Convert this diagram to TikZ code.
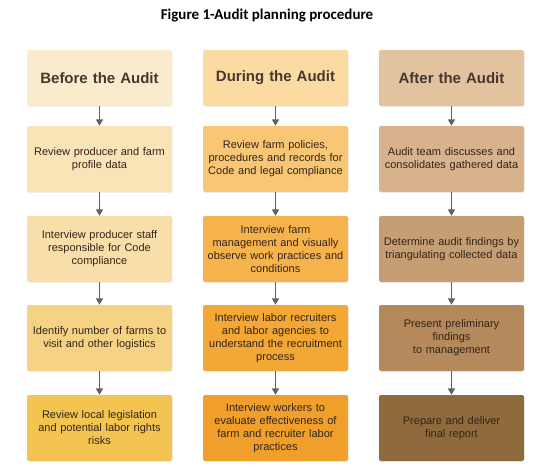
\documentclass[tikz,border=0pt]{standalone}
\usepackage{fontspec}
\setmainfont{Liberation Sans}
\newfontfamily\titlefont{Carlito}
\usetikzlibrary{arrows.meta,shadows}
\definecolor{aA}{HTML}{F9EBCB}
\definecolor{aB}{HTML}{F9E4B7}
\definecolor{aC}{HTML}{F8DEA8}
\definecolor{aD}{HTML}{F6D384}
\definecolor{aE}{HTML}{F3C451}
\definecolor{bA}{HTML}{FCDBA3}
\definecolor{bB}{HTML}{F9C676}
\definecolor{bC}{HTML}{F6B34D}
\definecolor{bD}{HTML}{F3A734}
\definecolor{bE}{HTML}{F09F2A}
\definecolor{cA}{HTML}{E3C29F}
\definecolor{cB}{HTML}{D8B28C}
\definecolor{cC}{HTML}{C69E73}
\definecolor{cD}{HTML}{B48A5C}
\definecolor{cE}{HTML}{8E6A3D}
\definecolor{hdtext}{HTML}{45392F}
\definecolor{bodytext}{HTML}{33241A}
\definecolor{arrowgray}{HTML}{606060}
\tikzset{
  boxbase/.style={rectangle, rounded corners=2pt, minimum width=145pt, text width=140pt, align=center, inner sep=0pt,
    drop shadow={opacity=0.12, shadow xshift=0.6pt, shadow yshift=-0.8pt}},
  headbox/.style={boxbase, minimum height=56pt, font=\bfseries\fontsize{15}{18}\selectfont, text=hdtext},
  stepbox/.style={boxbase, minimum height=66pt, font=\fontsize{11}{13}\selectfont, text=bodytext},
  flow/.style={draw=arrowgray, line width=1.5pt, -{Triangle[length=6.5pt,width=7pt]}}
}
\begin{document}
\begin{tikzpicture}[x=1pt,y=-1pt]
\useasboundingbox (0,0) rectangle (550,474);
\node[font=\titlefont\bfseries\fontsize{15}{17}\selectfont] (title) at (267,16) {Figure 1-Audit planning procedure};
% column 1
\node[headbox, fill=aA] (a0) at (99.5,78) {Before the Audit};
\node[stepbox, fill=aB] (a1) at (99.5,159) {Review producer and farm\\profile data};
\node[stepbox, fill=aC] (a2) at (99.5,249) {Interview producer staff\\responsible for Code\\compliance};
\node[stepbox, fill=aD] (a3) at (99.5,338) {Identify number of farms to\\visit and other logistics};
\node[stepbox, fill=aE] (a4) at (99.5,428) {Review local legislation\\and potential labor rights\\risks};
% column 2
\node[headbox, fill=bA] (b0) at (275.5,78) {During the Audit};
\node[stepbox, fill=bB] (b1) at (275.5,159) {Review farm policies,\\procedures and records for\\Code and legal compliance};
\node[stepbox, fill=bC] (b2) at (275.5,249) {Interview farm\\management and visually\\observe work practices and\\conditions};
\node[stepbox, fill=bD] (b3) at (275.5,338) {Interview labor recruiters\\and labor agencies to\\understand the recruitment\\process};
\node[stepbox, fill=bE] (b4) at (275.5,428) {Interview workers to\\evaluate effectiveness of\\farm and recruiter labor\\practices};
% column 3
\node[headbox, fill=cA] (c0) at (451.5,78) {After the Audit};
\node[stepbox, fill=cB] (c1) at (451.5,159) {Audit team discusses and\\consolidates gathered data};
\node[stepbox, fill=cC] (c2) at (451.5,249) {Determine audit findings by\\triangulating collected data};
\node[stepbox, fill=cD] (c3) at (451.5,338) {Present preliminary\\findings\\to management};
\node[stepbox, fill=cE] (c4) at (451.5,428) {Prepare and deliver\\final report};
% arrows
\foreach \col in {a,b,c}{
  \draw[flow] (\col0) -- (\col1);
  \draw[flow] (\col1) -- (\col2);
  \draw[flow] (\col2) -- (\col3);
  \draw[flow] (\col3) -- (\col4);
}
\end{tikzpicture}
\end{document}
